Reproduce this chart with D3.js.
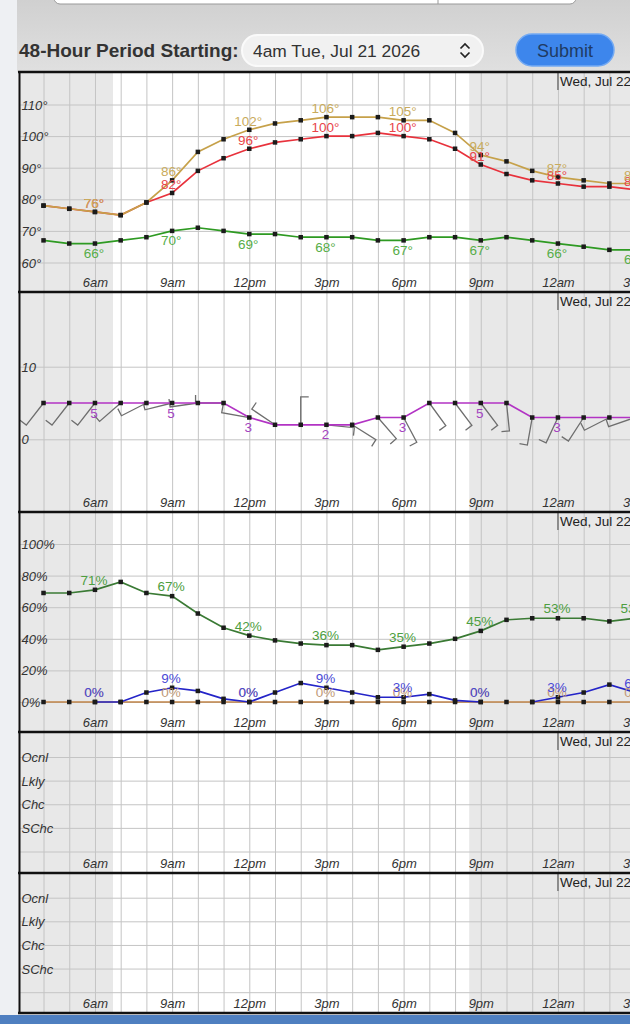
<!DOCTYPE html>
<html>
<head>
<meta charset="utf-8">
<title>48-Hour Forecast Graph</title>
<script src="https://cdnjs.cloudflare.com/ajax/libs/d3/7.8.5/d3.min.js"></script>
<style>
  html, body { margin: 0; padding: 0; background: #f0f1f3; }
  svg { display: block; }
  text { font-family: "Liberation Sans", Arial, sans-serif; }
  .axis text { font-style: italic; font-size: 13px; fill: #333; }
  .axis path, .axis line, .grid path { display: none; }
  .grid line { stroke: #c4c4c4; stroke-width: 1; }
  .value { font-size: 13.5px; text-anchor: middle; }
  .dot { fill: #1b1b1b; }
  .barb { fill: none; stroke: #6e6e6e; stroke-width: 1.3; }
  .sep { stroke: #111; stroke-width: 2.5; }
</style>
</head>
<body>
<svg id="viz" width="630" height="1024"></svg>
<script>

// hours since midnight Tue Jul 21 (4am Tue .. 3am Wed)
var hours = [4,5,6,7,8,9,10,11,12,13,14,15,16,17,18,19,20,21,22,23,24,25,26,27];

var xTicks = [6,9,12,15,18,21,24,27];
var xTickLabels = ["6am","9am","12pm","3pm","6pm","9pm","12am","3am"];

// temperature panel (deg F)
var temperature = [78,77,76,75,79,82,89,93,96,98,99,100,100,101,100,99,96,91,88,86,85,84,84,83];
var heatIndex   = [78,77,76,75,79,86,95,99,102,104,105,106,106,106,105,105,101,94,92,89,87,86,85,85];
var dewPoint    = [67,66,66,67,68,70,71,70,69,69,68,68,68,67,67,68,68,67,68,67,66,65,64,64];
var tempTicks = [60,70,80,90,100,110];

// wind panel (mph, direction wind blows from)
var windSpeed = [5,5,5,5,5,5,5,5,3,2,2,2,2,3,3,5,5,5,5,3,3,3,3,3];
var windDir   = [218,218,218,229,243,256,262,270,280,304,0,96,122,139,152,144,143,143,174,190,205,213,243,251];
var windTicks = [0,10];

// humidity / sky cover / precipitation potential (%)
var humidity     = [69,69,71,76,69,67,56,47,42,39,37,36,36,33,35,37,40,45,52,53,53,53,51,53];
var skyCover     = [null,null,0,0,6,9,7,2,0,6,12,9,6,3,3,5,1,0,null,0,3,6,11,6];
var precipChance = [0,0,0,0,0,0,0,0,0,0,0,0,0,0,0,0,0,0,0,0,0,0,0,0];
var pctTicks = [0,20,40,60,80,100];

// weather type panels
var chanceLevels = ["Ocnl","Lkly","Chc","SChc",""];

// night shading (sunset to sunrise), hours
var nights = [[2, 6.7], [20.55, 30]];

var svg = d3.select("#viz");
var width = +svg.attr("width");

var x = d3.scaleLinear().domain([3, 27]).range([17.8, 635.1]);

var panels = [
  { top: 72,  bottom: 292,
    y: d3.scaleLinear().domain([60, 110]).range([262.5, 104.5]),
    ticks: tempTicks, fmt: function(d) { return d + "°"; } },
  { top: 292, bottom: 512,
    y: d3.scaleLinear().domain([0, 10]).range([439.3, 366.7]),
    ticks: windTicks, fmt: function(d) { return d; } },
  { top: 512, bottom: 732,
    y: d3.scaleLinear().domain([0, 100]).range([702, 544]),
    ticks: pctTicks, fmt: function(d) { return d + "%"; } },
  { top: 732, bottom: 873,
    y: d3.scalePoint().domain(chanceLevels).range([757, 851.5]),
    ticks: chanceLevels, fmt: function(d) { return d; } },
  { top: 873, bottom: 1013,
    y: d3.scalePoint().domain(chanceLevels).range([897.7, 992.2]),
    ticks: chanceLevels, fmt: function(d) { return d; } }
];

// ---- page header ----

var defs = svg.append("defs");
var grad = defs.append("linearGradient").attr("id", "hdr").attr("x1", 0).attr("x2", 0).attr("y1", 0).attr("y2", 1);
grad.append("stop").attr("offset", "0%").attr("stop-color", "#d0d0d0");
grad.append("stop").attr("offset", "100%").attr("stop-color", "#e0e0e0");

svg.append("rect").attr("x", 0).attr("y", 0).attr("width", width).attr("height", 72).attr("fill", "url(#hdr)");
svg.append("rect").attr("x", 0).attr("y", 0).attr("width", 17).attr("height", 1024).attr("fill", "#eef0f3");

// cut-off field at the very top
svg.append("rect").attr("x", 54).attr("y", -10).attr("width", 522).attr("height", 14).attr("rx", 6)
  .attr("fill", "#fff").attr("stroke", "#999").attr("stroke-width", 1);
svg.append("line").attr("x1", 438).attr("x2", 438).attr("y1", 0).attr("y2", 4).attr("stroke", "#999");

svg.append("text")
  .attr("x", 19).attr("y", 57)
  .style("font-size", "19px").style("font-weight", "bold").style("fill", "#333")
  .text("48-Hour Period Starting:");

svg.append("rect").attr("x", 242).attr("y", 35).attr("width", 241).attr("height", 31).attr("rx", 15.5)
  .attr("fill", "#f1f1f1").attr("stroke", "#fafafa").attr("stroke-width", 2);
svg.append("text")
  .attr("x", 253).attr("y", 56.5)
  .style("font-size", "17.4px").style("fill", "#333")
  .text("4am Tue, Jul 21 2026");
svg.append("path").attr("d", "M460.5,48.5 L465,44 L469.5,48.5 M460.5,52.5 L465,57 L469.5,52.5")
  .attr("fill", "none").attr("stroke", "#222").attr("stroke-width", 1.7);

svg.append("rect").attr("x", 516).attr("y", 34).attr("width", 98).attr("height", 32).attr("rx", 16)
  .attr("fill", "#3d86ec").attr("stroke", "#74aaf3").attr("stroke-width", 1.5);
svg.append("text")
  .attr("x", 565).attr("y", 56.5)
  .style("font-size", "18px").style("fill", "#1f3b63").style("text-anchor", "middle")
  .text("Submit");

// ---- panel frames ----

function drawFrame(p, i) {

  defs.append("clipPath").attr("id", "clip" + i)
    .append("rect").attr("x", 20).attr("y", p.top).attr("width", width).attr("height", p.bottom - p.top);

  var g = svg.append("g").attr("clip-path", "url(#clip" + i + ")");

  g.append("rect").attr("x", 20).attr("y", p.top).attr("width", width).attr("height", p.bottom - p.top)
    .attr("fill", "#fff");

  g.selectAll(".night").data(nights).enter().append("rect")
    .attr("class", "night")
    .attr("x", function(d) { return x(d[0]); })
    .attr("y", p.top)
    .attr("width", function(d) { return x(d[1]) - x(d[0]); })
    .attr("height", p.bottom - p.top)
    .attr("fill", "#e8e8e8");

  // hourly vertical grid
  g.append("g").attr("class", "grid")
    .attr("transform", "translate(0," + p.bottom + ")")
    .call(d3.axisBottom(x).tickValues(hours).tickSize(-(p.bottom - p.top)).tickFormat(""));

  // horizontal grid
  g.append("g").attr("class", "grid")
    .attr("transform", "translate(20,0)")
    .call(d3.axisLeft(p.y).tickValues(p.ticks).tickSize(-width).tickFormat(""));

  // y labels sit inside the plot
  var ya = g.append("g").attr("class", "axis")
    .attr("transform", "translate(20,0)")
    .call(d3.axisLeft(p.y).tickValues(p.ticks).tickSize(0).tickFormat(p.fmt));
  ya.selectAll("text").attr("x", 1.5).attr("dy", "0.35em").style("text-anchor", "start");

  // time labels
  var xa = g.append("g").attr("class", "axis")
    .attr("transform", "translate(0," + (p.bottom - 9.5) + ")")
    .call(d3.axisBottom(x).tickValues(xTicks).tickSize(0)
      .tickFormat(function(d, k) { return xTickLabels[k]; }));
  xa.selectAll("text").attr("y", 0).attr("dy", "0.35em");

  // date marker at midnight
  g.append("line").attr("x1", x(24)).attr("x2", x(24)).attr("y1", p.top).attr("y2", p.top + 18)
    .attr("stroke", "#444").attr("stroke-width", 1);
  g.append("text").attr("x", x(24) + 2).attr("y", p.top + 13.5)
    .style("font-size", "13.5px").style("fill", "#222")
    .text("Wed, Jul 22");

  return g;
}

var frames = panels.map(drawFrame);

// ---- helpers for series ----

function drawSeries(g, y, values, color, width_) {
  var pts = hours.map(function(h, i) { return { h: h, v: values[i] }; });
  var line = d3.line()
    .defined(function(d) { return d.v !== null; })
    .x(function(d) { return x(d.h); })
    .y(function(d) { return y(d.v); });
  g.append("path").datum(pts)
    .attr("d", line)
    .attr("fill", "none")
    .attr("stroke", color)
    .attr("stroke-width", width_ || 1.7);
  return pts;
}

function drawDots(g, y, pts) {
  g.selectAll(null).data(pts.filter(function(d) { return d.v !== null; }))
    .enter().append("rect")
    .attr("class", "dot")
    .attr("x", function(d) { return x(d.h) - 2.25; })
    .attr("y", function(d) { return y(d.v) - 2.25; })
    .attr("width", 4.5).attr("height", 4.5);
}

function drawLabels(g, y, pts, color, dy, fmt) {
  g.selectAll(null).data(pts.filter(function(d) { return d.v !== null && xTicks.indexOf(d.h) >= 0; }))
    .enter().append("text")
    .attr("class", "value")
    .attr("x", function(d) { return x(d.h) - 1; })
    .attr("y", function(d) { return y(d.v) + dy; })
    .style("fill", color)
    .text(function(d) { return fmt(d.v); });
}

function deg(v) { return v + "°"; }
function pct(v) { return v + "%"; }
function plain(v) { return v; }

// ---- temperature panel ----

var g1 = frames[0], y1 = panels[0].y;
var dewPts = drawSeries(g1, y1, dewPoint, "#2e9a22");
var tempPts = drawSeries(g1, y1, temperature, "#e8323c");
var heatPts = drawSeries(g1, y1, heatIndex, "#c6a14a");
drawDots(g1, y1, dewPts);
drawDots(g1, y1, tempPts);
drawDots(g1, y1, heatPts);
drawLabels(g1, y1, tempPts, "#e8454a", -4, deg);
drawLabels(g1, y1, heatPts, "#c9ab5c", -4, deg);
drawLabels(g1, y1, dewPts, "#56ad48", 14.5, deg);

// ---- wind panel ----

var g2 = frames[1], y2 = panels[1].y;

g2.selectAll(".barb").data(hours).enter().append("path")
  .attr("class", "barb")
  .attr("d", function(h, i) {
    var px = x(h), py = y2(windSpeed[i]);
    var a = windDir[i] * Math.PI / 180;
    var sx = Math.sin(a), sy = -Math.cos(a);
    var ex = px + sx * 28, ey = py + sy * 28;
    var tx = ex - sy * 8, ty = ey + sx * 8;
    return "M" + px + "," + py + "L" + ex + "," + ey + "L" + tx + "," + ty;
  });

var windPts = drawSeries(g2, y2, windSpeed, "#b233c4");
drawDots(g2, y2, windPts);
drawLabels(g2, y2, windPts, "#a543c0", 14.5, plain);

// ---- humidity / sky / precip panel ----

var g3 = frames[2], y3 = panels[2].y;
var popPts = drawSeries(g3, y3, precipChance, "#c08448");
var skyPts = drawSeries(g3, y3, skyCover, "#2424c8");
var rhPts = drawSeries(g3, y3, humidity, "#3a7a34");
drawDots(g3, y3, popPts);
drawDots(g3, y3, skyPts);
drawDots(g3, y3, rhPts);
drawLabels(g3, y3, popPts, "#c09a78", -5, pct);
drawLabels(g3, y3, skyPts, "#4a4ad6", -5, pct);
drawLabels(g3, y3, rhPts, "#4d9e40", -5, pct);

// ---- panel borders ----

svg.selectAll(".sep").data(panels.map(function(p) { return p.top; }).concat([1013]))
  .enter().append("line")
  .attr("class", "sep")
  .attr("x1", 18).attr("x2", width)
  .attr("y1", function(d) { return d; })
  .attr("y2", function(d) { return d; });

svg.append("line").attr("x1", 19.5).attr("x2", 19.5).attr("y1", 71).attr("y2", 1014)
  .attr("stroke", "#111").attr("stroke-width", 2);

// browser toolbar strip at the bottom
svg.append("rect").attr("x", 0).attr("y", 1015).attr("width", width).attr("height", 9).attr("fill", "#4f7fc0");

</script>
</body>
</html>
